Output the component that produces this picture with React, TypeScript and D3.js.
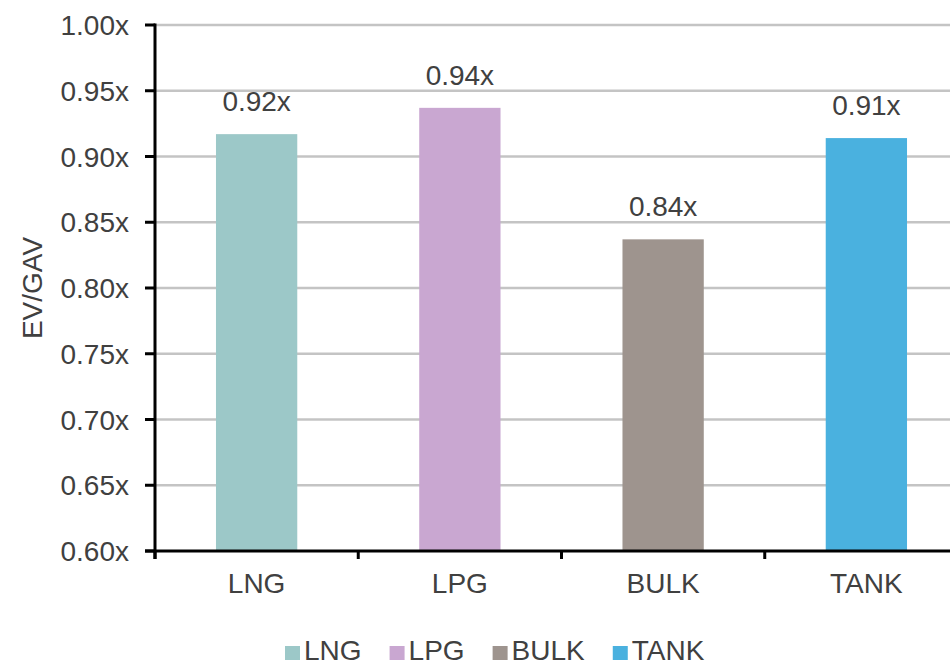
import React, { useEffect, useRef } from "react";
import * as d3 from "d3";

// Fleet segments and their EV/GAV multiples
const categories = ["LNG", "LPG", "BULK", "TANK"];
const values = [0.917, 0.937, 0.837, 0.914];
const valueLabels = ["0.92x", "0.94x", "0.84x", "0.91x"];
const colors = ["#9CC8C8", "#C9A7D1", "#9E948E", "#4AB1DF"];
const yTicks = [0.6, 0.65, 0.7, 0.75, 0.8, 0.85, 0.9, 0.95, 1.0];

const W = 950;
const H = 665;
const FONT = "'Liberation Sans', Arial, Helvetica, sans-serif";
const TEXT = "#404040";
const FS = 28;

export default function App() {
  const ref = useRef<SVGSVGElement | null>(null);

  useEffect(() => {
    const svg = d3.select(ref.current);
    svg.selectAll("*").remove();

    const left = 155;
    const right = 968;
    const top = 25;
    const bottom = 551;

    const x = d3.scaleBand<string>().domain(categories).range([left, right]).paddingInner(0.6).paddingOuter(0.3);
    const y = d3.scaleLinear().domain([0.6, 1.0]).range([bottom, top]);

    // Horizontal gridlines
    svg
      .append("g")
      .selectAll("line")
      .data(yTicks.filter((t) => t > 0.6))
      .join("line")
      .attr("x1", left)
      .attr("x2", right)
      .attr("y1", (d) => y(d))
      .attr("y2", (d) => y(d))
      .attr("stroke", "#C4C4C4")
      .attr("stroke-width", 2.6);

    // Bars
    svg
      .append("g")
      .selectAll("rect")
      .data(categories)
      .join("rect")
      .attr("x", (d) => x(d)!)
      .attr("width", x.bandwidth())
      .attr("y", (_, i) => y(values[i]))
      .attr("height", (_, i) => bottom - y(values[i]))
      .attr("fill", (_, i) => colors[i]);

    // Value labels
    svg
      .append("g")
      .selectAll("text")
      .data(categories)
      .join("text")
      .attr("x", (d) => x(d)! + x.bandwidth() / 2)
      .attr("y", (_, i) => y(values[i]) - 23)
      .attr("text-anchor", "middle")
      .attr("font-family", FONT)
      .attr("font-size", FS)
      .attr("fill", TEXT)
      .text((_, i) => valueLabels[i]);

    // Y axis
    const yAxis = svg.append("g");
    yAxis
      .append("line")
      .attr("x1", left)
      .attr("x2", left)
      .attr("y1", top - 1.5)
      .attr("y2", bottom + 8)
      .attr("stroke", "#000")
      .attr("stroke-width", 3);
    yAxis
      .selectAll("line.tick")
      .data(yTicks)
      .join("line")
      .attr("class", "tick")
      .attr("x1", left - 10)
      .attr("x2", left)
      .attr("y1", (d) => y(d))
      .attr("y2", (d) => y(d))
      .attr("stroke", "#000")
      .attr("stroke-width", 3);
    yAxis
      .selectAll("text")
      .data(yTicks)
      .join("text")
      .attr("x", 129)
      .attr("y", (d) => y(d) + 10)
      .attr("text-anchor", "end")
      .attr("font-family", FONT)
      .attr("font-size", FS)
      .attr("fill", TEXT)
      .text((d) => d3.format(".2f")(d) + "x");

    // X axis
    const xAxis = svg.append("g");
    xAxis
      .append("line")
      .attr("x1", left - 10)
      .attr("x2", right)
      .attr("y1", bottom)
      .attr("y2", bottom)
      .attr("stroke", "#000")
      .attr("stroke-width", 3);
    const step = x.step();
    xAxis
      .selectAll("line.tick")
      .data(d3.range(categories.length + 1))
      .join("line")
      .attr("class", "tick")
      .attr("x1", (i) => left + i * step)
      .attr("x2", (i) => left + i * step)
      .attr("y1", bottom)
      .attr("y2", bottom + 8)
      .attr("stroke", "#000")
      .attr("stroke-width", 3);
    xAxis
      .selectAll("text")
      .data(categories)
      .join("text")
      .attr("x", (d) => x(d)! + x.bandwidth() / 2)
      .attr("y", 593)
      .attr("text-anchor", "middle")
      .attr("font-family", FONT)
      .attr("font-size", FS)
      .attr("fill", TEXT)
      .text((d) => d);

    // Y axis title
    svg
      .append("text")
      .attr("transform", `translate(42,${(top + bottom) / 2}) rotate(-90)`)
      .attr("text-anchor", "middle")
      .attr("font-family", FONT)
      .attr("font-size", FS)
      .attr("fill", TEXT)
      .text("EV/GAV");

    // Legend
    const legend = svg.append("g");
    let cx = 285;
    categories.forEach((c, i) => {
      legend
        .append("rect")
        .attr("x", cx)
        .attr("y", 646)
        .attr("width", 15)
        .attr("height", 14)
        .attr("fill", colors[i]);
      const t = legend
        .append("text")
        .attr("x", cx + 19)
        .attr("y", 660)
        .attr("font-family", FONT)
        .attr("font-size", FS)
        .attr("fill", TEXT)
        .text(c);
      const w = (t.node() as SVGTextElement).getComputedTextLength();
      cx = cx + 19 + w + 28;
    });
  }, []);

  return (
    <div style={{ position: "absolute", left: 0, top: 0 }}>
      <svg ref={ref} width={W} height={H} style={{ display: "block", background: "#fff" }} />
    </div>
  );
}
